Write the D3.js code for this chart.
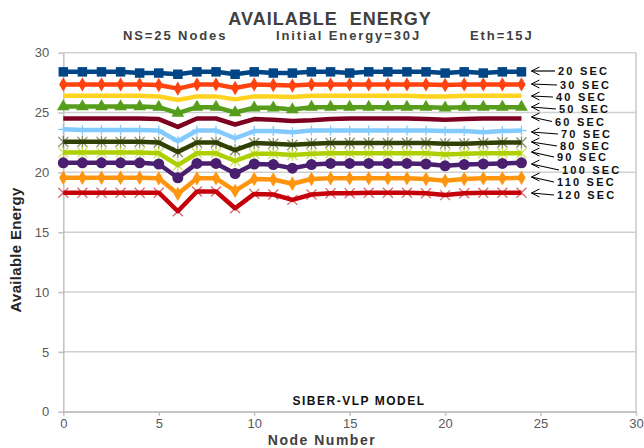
<!DOCTYPE html>
<html>
<head>
<meta charset="utf-8">
<script src="https://cdn.jsdelivr.net/npm/d3@7"></script>
<style>
  body { margin: 0; background: #fff; }
  #chartArea { width: 644px; height: 448px; }
  text { font-family: "Liberation Sans", Arial, sans-serif; }
</style>
</head>
<body>
<div id="chartArea"></div>
<script>
console.log('js Loaded');

// node numbers on the x axis
var nodes = [0,1,2,3,4,5,6,7,8,9,10,11,12,13,14,15,16,17,18,19,20,21,22,23,24];

// available energy per node, one array per simulation time
var sec20  = [28.4,28.4,28.4,28.4,28.3,28.3,28.2,28.4,28.4,28.2,28.4,28.3,28.3,28.4,28.4,28.3,28.4,28.4,28.4,28.4,28.3,28.4,28.3,28.4,28.4];
var sec30  = [27.35,27.35,27.35,27.35,27.35,27.3,27.0,27.35,27.35,27.05,27.35,27.3,27.25,27.35,27.35,27.35,27.35,27.35,27.35,27.35,27.3,27.35,27.35,27.35,27.35];
var sec40  = [26.4,26.4,26.4,26.4,26.4,26.35,26.05,26.35,26.35,26.1,26.35,26.35,26.3,26.4,26.4,26.4,26.4,26.4,26.4,26.35,26.35,26.4,26.4,26.4,26.4];
var sec50  = [25.5,25.5,25.5,25.5,25.5,25.45,24.95,25.45,25.45,25.0,25.4,25.4,25.25,25.45,25.45,25.45,25.45,25.45,25.45,25.45,25.4,25.45,25.45,25.45,25.45];
var sec60  = [24.5,24.5,24.5,24.5,24.5,24.45,23.8,24.5,24.5,24.0,24.45,24.4,24.3,24.35,24.45,24.5,24.5,24.5,24.5,24.45,24.4,24.45,24.5,24.5,24.5];
var sec70  = [23.6,23.55,23.55,23.55,23.55,23.5,22.6,23.5,23.5,22.85,23.45,23.45,23.35,23.5,23.5,23.5,23.5,23.5,23.5,23.5,23.45,23.45,23.35,23.45,23.5];
var sec80  = [22.55,22.55,22.55,22.55,22.55,22.5,21.7,22.5,22.5,21.85,22.45,22.4,22.3,22.4,22.45,22.45,22.45,22.45,22.45,22.45,22.4,22.4,22.45,22.5,22.5];
var sec90  = [21.65,21.65,21.65,21.65,21.65,21.6,20.6,21.6,21.6,20.95,21.55,21.55,21.45,21.55,21.6,21.6,21.6,21.6,21.6,21.6,21.5,21.55,21.6,21.6,21.6];
var sec100 = [20.8,20.8,20.8,20.8,20.8,20.7,19.55,20.75,20.75,19.9,20.7,20.65,20.35,20.65,20.75,20.75,20.75,20.75,20.75,20.7,20.55,20.65,20.7,20.75,20.8];
var sec110 = [19.55,19.55,19.55,19.55,19.55,19.5,18.2,19.5,19.5,18.45,19.45,19.4,19.05,19.45,19.5,19.5,19.5,19.5,19.5,19.45,19.3,19.45,19.5,19.5,19.55];
var sec120 = [18.3,18.3,18.3,18.3,18.3,18.3,16.75,18.4,18.4,17.0,18.2,18.15,17.7,18.15,18.25,18.25,18.3,18.3,18.3,18.25,18.1,18.25,18.3,18.3,18.3];

var seriesNames = ["20 SEC","30 SEC","40 SEC","50 SEC","60 SEC","70 SEC","80 SEC","90 SEC","100 SEC","110 SEC","120 SEC"];
var xTicks = [0,5,10,15,20,25,30];
var yTicks = [0,5,10,15,20,25,30];

// look of each series (LibreOffice default palette)
var colors  = ["#004586","#ff420e","#ffd320","#579d1c","#7e0021","#83caff","#314004","#aecf00","#4b1f6f","#ff950e","#c5000b"];
var markers = ["square","diamond","none","triangle","none","plus","star","star","circle","diamond","cross"];

// where the callout labels sit (right of the plot)
var labelX = [558,560,556,559,555,561,560,557,562,557,557];
var labelY = [71,85,97,109,121.5,134,146,157,170,182,195];
var arrowY = [71,84,96,107,117,132,142,152,164,177,193];

var series = [sec20,sec30,sec40,sec50,sec60,sec70,sec80,sec90,sec100,sec110,sec120].map(function (vals, i) {
    return { name: seriesNames[i], color: colors[i], marker: markers[i],
             values: vals.map(function (v, j) { return { x: nodes[j], y: v }; }) };
});

var W = 644, H = 448;
var plotL = 63.3, plotR = 636, plotT = 52.7, plotB = 411.7;

var svg = d3.select("#chartArea").append("svg")
    .attr("width", W)
    .attr("height", H);

var x = d3.scaleLinear().domain([0, 30]).range([plotL, plotR]);
var y = d3.scaleLinear().domain([0, 30]).range([plotB, plotT]);

//gridlines
svg.append("g")
    .selectAll("line")
    .data(yTicks)
    .enter().append("line")
    .attr("x1", plotL).attr("x2", plotR)
    .attr("y1", d => y(d)).attr("y2", d => y(d))
    .attr("stroke", "#d0d0d0")
    .attr("stroke-width", 1.5);

// right border of plot area
svg.append("line")
    .attr("x1", plotR).attr("x2", plotR)
    .attr("y1", plotT).attr("y2", plotB)
    .attr("stroke", "#c8c8c8")
    .attr("stroke-width", 1.5);

//axes
var xAxis = svg.append("g")
    .attr("transform", "translate(0," + plotB + ")")
    .call(d3.axisBottom(x).tickValues(xTicks).tickSize(4).tickPadding(3).tickSizeOuter(0));
var yAxis = svg.append("g")
    .attr("transform", "translate(" + plotL + ",0)")
    .call(d3.axisLeft(y).tickValues(yTicks).tickSize(5).tickPadding(9).tickSizeOuter(0));

[xAxis, yAxis].forEach(function (ax) {
    ax.select(".domain").attr("stroke", "#c0c0c0").attr("stroke-width", 1.5);
    ax.selectAll(".tick line").attr("stroke", "#c0c0c0").attr("stroke-width", 1.5);
    ax.selectAll(".tick text")
        .attr("fill", "#595959")
        .style("font-size", "13px")
        .style("font-family", '"Liberation Sans", Arial, sans-serif');
});

//lines
var line = d3.line()
    .x(d => x(d.x))
    .y(d => y(d.y));

var sym = {
    square: d3.symbol().type(d3.symbolSquare).size(90),
    diamond: d3.symbol().type(d3.symbolDiamond).size(60),
    triangle: d3.symbol().type(d3.symbolTriangle).size(70),
    circle: d3.symbol().type(d3.symbolCircle).size(95)
};
function strokeMarker(kind) {
    var s = 5;
    if (kind == "plus") return "M0," + (-s) + "L0," + s + "M" + (-s) + ",0L" + s + ",0";
    if (kind == "cross") return "M" + (-s) + "," + (-s) + "L" + s + "," + s + "M" + (-s) + "," + s + "L" + s + "," + (-s);
    // star: cross plus vertical stroke
    return "M" + (-s) + "," + (-s) + "L" + s + "," + s + "M" + (-s) + "," + s + "L" + s + "," + (-s) + "M0," + (-s - 1) + "L0," + (s + 1);
}

var groups = svg.append("g").selectAll("g")
    .data(series)
    .enter().append("g")
    .attr("class", "series");

groups.append("path")
    .attr("d", d => line(d.values))
    .attr("fill", "none")
    .attr("stroke", d => d.color)
    .attr("stroke-width", 4.5)
    .attr("stroke-linejoin", "round");

groups.each(function (s) {
    if (s.marker == "none") return;
    var g = d3.select(this);
    var pts = g.selectAll(".mk")
        .data(s.values)
        .enter().append("path")
        .attr("class", "mk")
        .attr("transform", d => "translate(" + x(d.x) + "," + y(d.y) + ")");
    if (sym[s.marker]) {
        pts.attr("d", sym[s.marker]()).attr("fill", s.color);
    } else {
        pts.attr("d", strokeMarker(s.marker))
            .attr("fill", "none")
            .attr("stroke", s.color)
            .attr("stroke-opacity", s.marker == "plus" ? 1 : 0.6)
            .attr("stroke-width", 1.3);
    }
});

//callout labels with arrows
var tipX = x(nodes[nodes.length - 1]) + 10;
var callouts = svg.append("g").selectAll("g")
    .data(series)
    .enter().append("g");

callouts.append("line")
    .attr("x1", (d, i) => labelX[i] - 3)
    .attr("y1", (d, i) => labelY[i])
    .attr("x2", tipX)
    .attr("y2", (d, i) => arrowY[i])
    .attr("stroke", "#000")
    .attr("stroke-width", 1.2);

callouts.append("path")
    .attr("d", (d, i) => "M" + (tipX + 8) + "," + (arrowY[i] - 4) + "L" + tipX + "," + arrowY[i] + "L" + (tipX + 8) + "," + (arrowY[i] + 4))
    .attr("fill", "none")
    .attr("stroke", "#000")
    .attr("stroke-width", 1);

callouts.append("text")
    .attr("x", (d, i) => labelX[i])
    .attr("y", (d, i) => labelY[i] + 4)
    .attr("font-size", "11px")
    .attr("font-weight", "bold")
    .attr("letter-spacing", "2.2px")
    .attr("fill", "#111")
    .text(d => d.name);

//titles
svg.append("text")
    .attr("x", 330).attr("y", 25)
    .attr("text-anchor", "middle")
    .attr("font-size", "18px")
    .attr("font-weight", "bold")
    .attr("letter-spacing", "1px")
    .attr("fill", "#404040")
    .attr("xml:space", "preserve")
    .text("AVAILABLE  ENERGY");

var subtitles = [
    { t: "NS=25 Nodes", x: 123 },
    { t: "Initial Energy=30J", x: 276 },
    { t: "Eth=15J", x: 470 }
];
svg.append("g").selectAll("text")
    .data(subtitles)
    .enter().append("text")
    .attr("x", d => d.x).attr("y", 40)
    .attr("font-size", "13px")
    .attr("font-weight", "bold")
    .attr("letter-spacing", "1.9px")
    .attr("fill", "#404040")
    .text(d => d.t);

svg.append("text")
    .attr("x", 359).attr("y", 405)
    .attr("text-anchor", "middle")
    .attr("font-size", "12px")
    .attr("font-weight", "bold")
    .attr("letter-spacing", "1.5px")
    .attr("fill", "#111")
    .text("SIBER-VLP MODEL");

svg.append("text")
    .attr("x", 322).attr("y", 445)
    .attr("text-anchor", "middle")
    .attr("font-size", "14px")
    .attr("font-weight", "bold")
    .attr("letter-spacing", "1.5px")
    .attr("fill", "#404040")
    .text("Node Number");

svg.append("text")
    .attr("transform", "translate(21,250) rotate(-90)")
    .attr("text-anchor", "middle")
    .attr("font-size", "15px")
    .attr("font-weight", "bold")
    .attr("letter-spacing", "0.3px")
    .attr("fill", "#262626")
    .text("Available Energy");
</script>
</body>
</html>
